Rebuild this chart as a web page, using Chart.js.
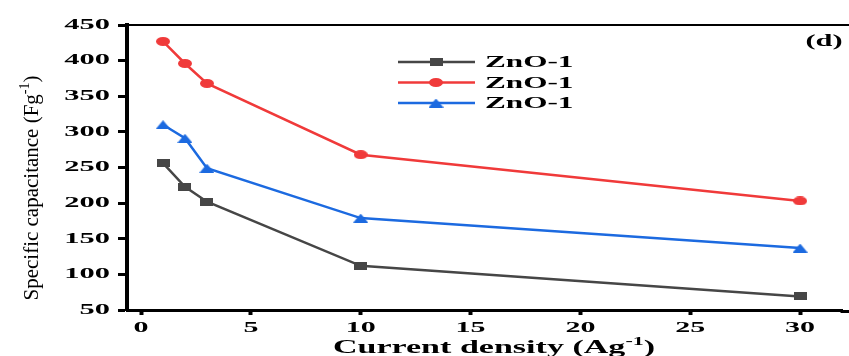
<!DOCTYPE html>
<html>
<head>
<meta charset="utf-8">
<script src="https://cdn.jsdelivr.net/npm/chart.js@4.4.0/dist/chart.umd.min.js"></script>
<style>
  html, body { margin: 0; padding: 0; background: #fff; }
  #chart { display: block; }
</style>
</head>
<body>
<canvas id="chart" width="849" height="356"></canvas>
<script>
// values
const currentDensity = [1, 2, 3, 10, 30]
const zno1Gray = [256, 223, 202, 112, 69]
const zno1Red = [427, 396, 368, 268, 203]
const zno1Blue = [310, 291, 249, 179, 137]
const seriesNames = ['ZnO-1', 'ZnO-1', 'ZnO-1']
const yTicks = [50, 100, 150, 200, 250, 300, 350, 400, 450]
const xTicks = [0, 5, 10, 15, 20, 25, 30]

const serif = '"Liberation Serif", "Times New Roman", serif'
const gray = 'rgb(70,70,70)'
const red = 'rgb(240,58,58)'
const blue = 'rgb(28,106,224)'

function makeMarker(shape, color, w, h) {
    const c = document.createElement('canvas')
    c.width = w
    c.height = h
    const g = c.getContext('2d')
    g.fillStyle = color
    g.beginPath()
    if (shape == 'square') g.rect(0, 0, w, h)
    if (shape == 'circle') g.ellipse(w / 2, h / 2, w / 2, h / 2, 0, 0, Math.PI * 2)
    if (shape == 'triangle') { g.moveTo(w / 2, 0); g.lineTo(w, h); g.lineTo(0, h); g.closePath() }
    g.fill()
    return c
}

const markers = [
    makeMarker('square', gray, 13, 8),
    makeMarker('circle', red, 14, 9),
    makeMarker('triangle', blue, 15, 9)
]

function toPoints(ys) {
    return currentDensity.map((x, i) => ({ x: x, y: ys[i] }))
}

// draw text stretched sideways, parts = [[text, font, dy], ...]
function stretchText(ctx, parts, x, y, sx, align) {
    let total = 0
    parts.forEach(p => { ctx.font = p[1]; total += ctx.measureText(p[0]).width })
    let start = 0
    if (align == 'center') start = -total / 2
    if (align == 'right') start = -total
    ctx.save()
    ctx.translate(x, y)
    ctx.scale(sx, 1)
    ctx.textAlign = 'left'
    let cx = start
    parts.forEach(p => {
        ctx.font = p[1]
        ctx.fillText(p[0], cx, p[2] || 0)
        cx += ctx.measureText(p[0]).width
    })
    ctx.restore()
}

const textPlugin = {
    id: 'figureText',
    afterDraw(chart) {
        const ctx = chart.ctx
        const area = chart.chartArea
        const xs = chart.scales.x
        const ys = chart.scales.y

        // frame: thin top line, bottom axis carried on to the canvas edge
        ctx.save()
        ctx.strokeStyle = '#000'
        ctx.lineWidth = 2
        ctx.beginPath()
        ctx.moveTo(area.left, area.top)
        ctx.lineTo(chart.width, area.top)
        ctx.stroke()
        ctx.lineWidth = 3
        ctx.beginPath()
        ctx.moveTo(area.right - 2, area.bottom + 1.5)
        ctx.lineTo(chart.width, area.bottom + 1.5)
        ctx.stroke()
        ctx.restore()

        ctx.save()
        ctx.fillStyle = '#000'
        ctx.textBaseline = 'middle'
        const tickFont = 'bold 14.5px ' + serif
        ys.ticks.forEach(t => {
            stretchText(ctx, [[String(t.value), tickFont]], 110, ys.getPixelForValue(t.value), 2.1, 'right')
        })
        xs.ticks.forEach(t => {
            stretchText(ctx, [[String(t.value), tickFont]], xs.getPixelForValue(t.value), 328, 2.07, 'center')
        })

        // axis titles
        ctx.textBaseline = 'alphabetic'
        stretchText(ctx, [
            ['Current density (Ag', 'bold 18.5px ' + serif],
            ['-1', 'bold 12px ' + serif, -8],
            [')', 'bold 18.5px ' + serif]
        ], 494, 353, 1.84, 'center')

        ctx.save()
        ctx.translate(38, 188)
        ctx.rotate(-Math.PI / 2)
        stretchText(ctx, [
            ['Specific capacitance (Fg', '21px ' + serif],
            ['-1', '14px ' + serif, -9],
            [')', '21px ' + serif]
        ], 0, 0, 1, 'center')
        ctx.restore()

        // panel tag
        stretchText(ctx, [['(d)', 'bold 16px ' + serif]], 824, 46, 1.9, 'center')

        // legend
        chart.data.datasets.forEach((ds, i) => {
            const ly = 62 + i * 20.5
            ctx.strokeStyle = ds.borderColor
            ctx.lineWidth = 2.5
            ctx.beginPath()
            ctx.moveTo(398, ly)
            ctx.lineTo(475, ly)
            ctx.stroke()
            const m = markers[i]
            ctx.drawImage(m, 436 - m.width / 2, ly - m.height / 2)
            ctx.textBaseline = 'middle'
            stretchText(ctx, [[seriesNames[i], 'bold 16px ' + serif]], 485, ly + 1, 1.95, 'left')
        })
        ctx.restore()
    }
}

const datasets = [zno1Gray, zno1Red, zno1Blue].map((ys, i) => ({
    label: seriesNames[i],
    data: toPoints(ys),
    borderColor: [gray, red, blue][i],
    backgroundColor: [gray, red, blue][i],
    borderWidth: 2.5,
    pointStyle: markers[i],
    lineTension: 0
}))

new Chart(document.getElementById('chart'), {
    type: 'line',
    data: { datasets: datasets },
    options: {
        responsive: false,
        animation: false,
        layout: { padding: { top: 25, right: 0, left: 0, bottom: 0 } },
        plugins: { legend: { display: false }, tooltip: { enabled: false } },
        scales: {
            x: {
                type: 'linear',
                min: -0.64,
                max: 31.93,
                afterFit(scale) {
                    scale.height = 46
                    scale.paddingLeft = 0
                    scale.paddingRight = 0
                },
                afterBuildTicks(scale) { scale.ticks = xTicks.map(v => ({ value: v })) },
                ticks: { display: false },
                grid: { drawOnChartArea: false, drawTicks: true, tickLength: 5, tickWidth: 4, color: '#000' },
                border: { display: true, width: 3, color: '#000' }
            },
            y: {
                min: 50,
                max: 450,
                afterFit(scale) {
                    scale.width = 127
                    scale.paddingTop = 0
                    scale.paddingBottom = 0
                },
                afterBuildTicks(scale) { scale.ticks = yTicks.map(v => ({ value: v })) },
                ticks: { display: false },
                grid: { drawOnChartArea: false, drawTicks: true, tickLength: 9, tickWidth: 3, color: '#000' },
                border: { display: true, width: 4, color: '#000' }
            }
        }
    },
    plugins: [textPlugin]
})
</script>
</body>
</html>
